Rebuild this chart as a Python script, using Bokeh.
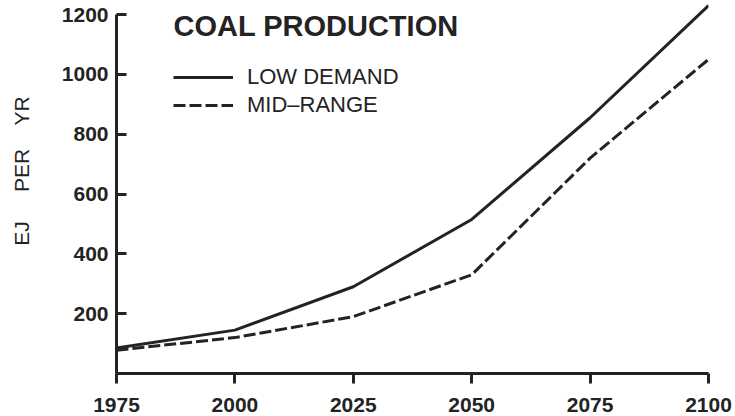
from bokeh.plotting import figure
from bokeh.models import Range1d, FixedTicker, Label, Legend, LegendItem
from bokeh.embed import file_html
from bokeh.resources import INLINE

# Data
years = [1975, 2000, 2025, 2050, 2075, 2100]
low_demand = [85, 145, 290, 515, 855, 1230]
mid_range = [78, 120, 190, 330, 720, 1050]
x_ticks = [1975, 2000, 2025, 2050, 2075, 2100]
y_ticks = [200, 400, 600, 800, 1000, 1200]

title_text = "COAL PRODUCTION"
series_names = ["LOW DEMAND", "MID\u2013RANGE"]
NB = "\u00a0"
y_label_text = NB * 6 + "EJ" + NB * 5 + "PER" + NB * 4 + "YR"

INK = "#232323"
FONT = "Liberation Sans"

p = figure(width=735, height=416, output_backend="svg", toolbar_location=None,
           x_range=Range1d(1975, 2100), y_range=Range1d(0, 1237),
           min_border_left=116, min_border_right=27, min_border_top=3,
           min_border_bottom=43)

p.outline_line_color = None
p.background_fill_color = "white"
p.border_fill_color = "white"
p.xgrid.visible = False
p.ygrid.visible = False

# axes
for ax in (p.xaxis[0], p.yaxis[0]):
    ax.axis_line_color = INK
    ax.axis_line_width = 3
    ax.major_tick_line_color = INK
    ax.major_tick_line_width = 3
    ax.minor_tick_line_color = None
    ax.major_label_text_font = FONT
    ax.major_label_text_font_style = "bold"
    ax.major_label_text_font_size = "21px"
    ax.major_label_text_color = INK

p.xaxis[0].ticker = FixedTicker(ticks=x_ticks)
p.xaxis[0].axis_label = None
p.xaxis[0].major_tick_in = 0
p.xaxis[0].major_tick_out = 10
p.xaxis[0].major_label_standoff = 14
p.xaxis[0].major_label_text_line_height = 0.8

p.yaxis[0].ticker = FixedTicker(ticks=y_ticks)
p.yaxis[0].bounds = (0, 1200)
p.yaxis[0].major_tick_in = 10
p.yaxis[0].major_tick_out = 0
p.yaxis[0].major_label_standoff = 8
p.yaxis[0].axis_label = y_label_text
p.yaxis[0].axis_label_text_font = FONT
p.yaxis[0].axis_label_text_font_style = "normal"
p.yaxis[0].axis_label_text_font_size = "21px"
p.yaxis[0].axis_label_text_color = INK
p.yaxis[0].axis_label_standoff = 26

r_low = p.line(years, low_demand, line_color=INK, line_width=3)
r_mid = p.line(years, mid_range, line_color=INK, line_width=3, line_dash="12 4")

legend = Legend(items=[LegendItem(label=series_names[0], renderers=[r_low]),
                       LegendItem(label=series_names[1], renderers=[r_mid])],
                location=(57, 255))
legend.margin = 0
legend.padding = 0
legend.spacing = 2
legend.glyph_width = 60
legend.glyph_height = 20
legend.label_height = 20
legend.label_standoff = 14
legend.label_text_font = FONT
legend.label_text_font_size = "22px"
legend.label_text_color = INK
legend.border_line_color = None
legend.background_fill_alpha = 0
p.add_layout(legend)

title = Label(x=57, y=348, x_units="screen", y_units="screen", text=title_text,
              text_font=FONT, text_font_style="bold", text_font_size="29px",
              text_color=INK, text_baseline="alphabetic", text_align="left")
p.add_layout(title)

open("out.html", "w").write(file_html(p, INLINE))
